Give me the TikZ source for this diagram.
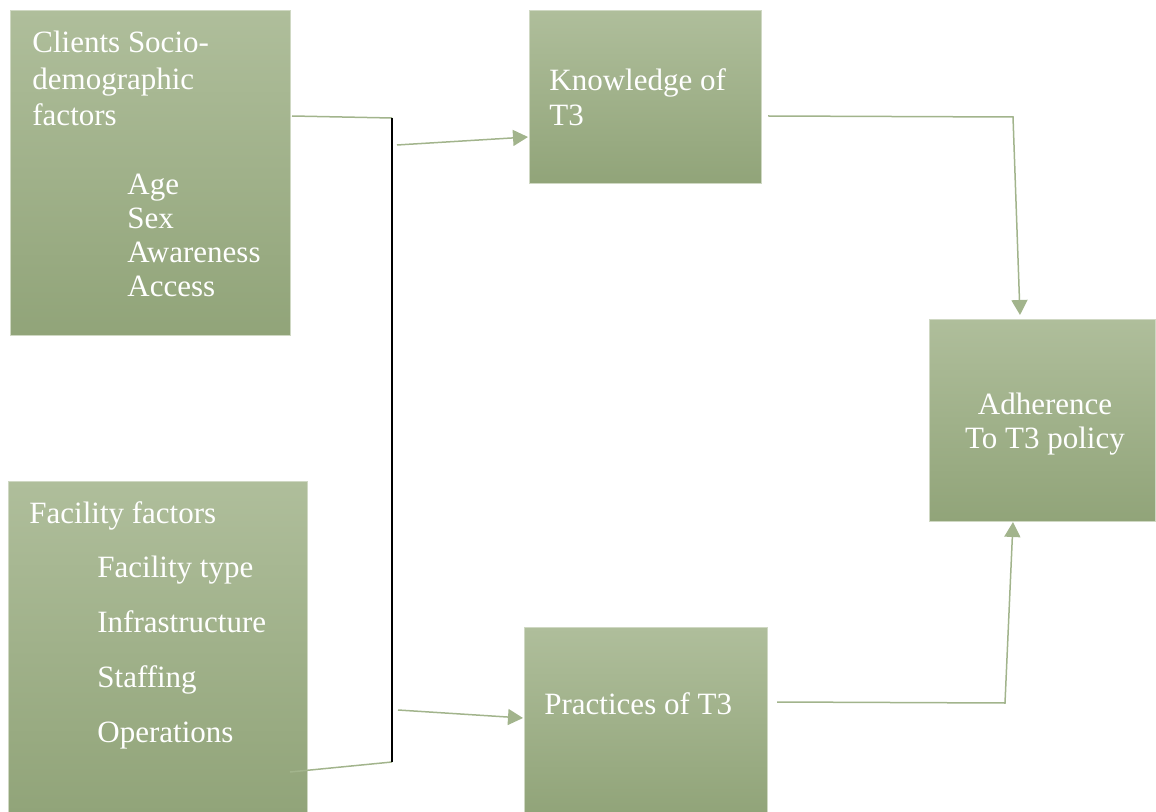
\documentclass[tikz,border=0pt]{standalone}
\usepackage{fontspec}
\setmainfont{Liberation Serif}
\usetikzlibrary{arrows.meta}

\definecolor{boxtop}{HTML}{AFBE9B}
\definecolor{boxbot}{HTML}{91A479}
\definecolor{linkcol}{HTML}{A2B48C}

\begin{document}
\begin{tikzpicture}[x=0.5pt, y=-0.5pt,
            box/.style={draw=boxtop!60!white, line width=0.4pt, top color=boxtop, bottom color=boxbot, inner sep=0, anchor=north west},
            txt/.style={text=white, font=\fontsize{15.5}{18}\selectfont, inner sep=0, anchor=base west},
            link/.style={draw=linkcol, line width=0.75pt},
            arr/.style={link, -{Triangle[length=7.5pt, width=8pt]}},
            % bus/.style = {draw=black, line width=0.6pt},
            ]
            \useasboundingbox (0,0) rectangle (1156,812);

            % boxes
            \node[box, minimum width=140pt, minimum height=162.5pt] (clients) at (10, 10) {};
            \node[box, minimum width=149.5pt, minimum height=166pt] (facility) at (8, 481) {};
            \node[box, minimum width=116pt, minimum height=86.5pt] (knowledge) at (529, 10) {};
            \node[box, minimum width=121.5pt, minimum height=93pt] (practices) at (524, 627) {};
            \node[box, minimum width=113pt, minimum height=101pt] (adherence) at (929, 319) {};

            % texts
            \node[txt] (cl1) at (32, 53) {Clients Socio-};
            \node[txt] (cl2) at (32, 89.5) {demographic};
            \node[txt] (cl3) at (32, 126) {factors};
            \foreach \t [count=\i] in {Age, Sex, Awareness, Access}
                \node[txt] (cf\i) at (127, 161+34*\i) {\t};
            \node[txt] (fa0) at (29, 523) {Facility factors};
            \foreach \t [count=\i] in {Facility type, Infrastructure, Staffing, Operations}
                \node[txt] (fa\i) at (97, 522+55*\i) {\t};
            \node[txt] (kn1) at (549, 91) {Knowledge of};
            \node[txt] (kn2) at (549, 126) {T3};
            \node[txt] (pr1) at (544, 714) {Practices of T3};
            \node[txt, anchor=base] (ad1) at (1045, 415) {Adherence};
            \node[txt, anchor=base] (ad2) at (1045, 449) {To T3 policy};

            % connectors
            \coordinate (cOut) at (292, 116);
            \coordinate (fOut) at (290, 772);
            \coordinate (busT) at (392, 118);
            \coordinate (busB) at (392, 762);
            \coordinate (kIn) at (528, 137);
            \coordinate (kSrc) at (397, 145);
            \coordinate (pIn) at (523, 718);
            \coordinate (pSrc) at (398, 710);
            \coordinate (kOut) at (768, 116);
            \coordinate (kBend) at (1013, 117);
            \coordinate (aTop) at (1020, 315);
            \coordinate (pOut) at (777, 702);
            \coordinate (pBend) at (1005, 703);
            \coordinate (aBot) at (1013, 522);

            \draw[link] (cOut) -- (busT);
            \draw[link] (fOut) -- (busB);
            \draw[black, line width=0.6pt] (busT) -- (busB);
            \draw[arr] (kSrc) -- (kIn);
            \draw[arr] (pSrc) -- (pIn);
            \draw[arr] (kOut) -- (kBend) -- (aTop);
            \draw[arr] (pOut) -- (pBend) -- (aBot);
        \end{tikzpicture}
\end{document}
